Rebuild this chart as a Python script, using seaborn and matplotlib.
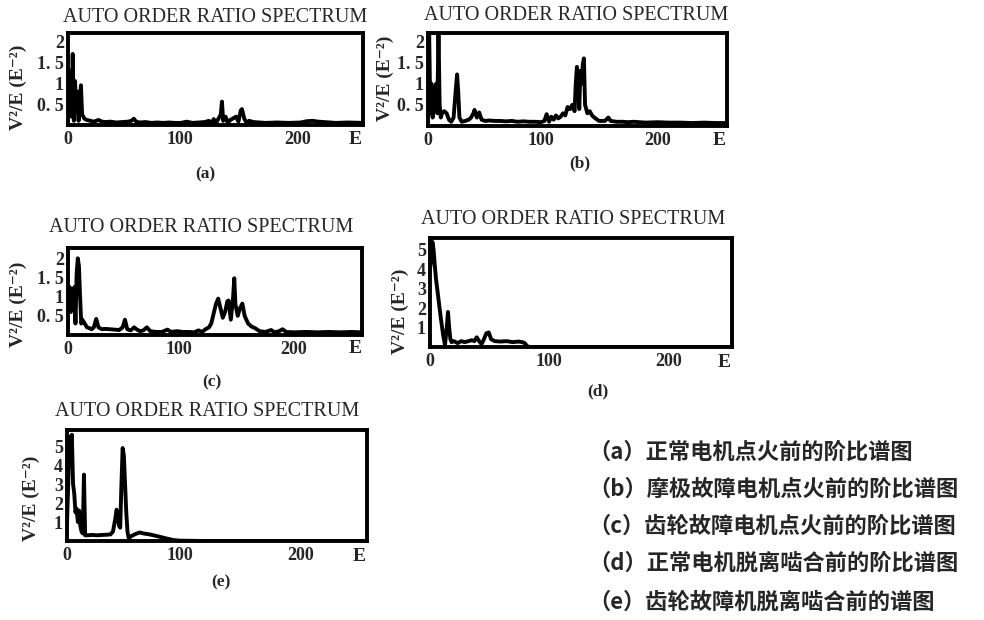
import matplotlib
matplotlib.use("Agg")
import matplotlib.pyplot as plt
import pandas as pd
import seaborn as sns

# ---------------- data ----------------
spec_a = [(5, 1.2), (6, 0.35), (7, 1.3), (8, 0.2), (9, 1.7), (10, 0.1), (11, 1.05), (12, 0.3),
          (13, 0.8), (14, 0.1), (15, 0.6), (16, 0.95), (17, 0.25), (18, 0.2), (19, 0.15), (21, 0.12),
          (24, 0.1), (27, 0.08), (31, 0.12), (34, 0.08), (37, 0.07), (41, 0.08), (46, 0.06), (51, 0.07),
          (56, 0.08), (59, 0.1), (61, 0.15), (63, 0.08), (66, 0.06), (71, 0.07), (76, 0.05), (81, 0.06),
          (86, 0.05), (91, 0.06), (96, 0.05), (101, 0.05), (106, 0.08), (111, 0.05), (116, 0.06),
          (121, 0.07), (125, 0.1), (127, 0.03), (129, 0.14), (131, 0.05), (133, 0.15), (135, 0.25),
          (136, 0.56), (137, 0.1), (139, 0.2), (141, 0.05), (143, 0.12), (145, 0.15), (148, 0.2),
          (150, 0.08), (152, 0.35), (153, 0.38), (155, 0.15), (157, 0.05), (159, 0.1), (163, 0.07),
          (168, 0.06), (173, 0.05), (183, 0.06), (193, 0.05), (203, 0.06), (208, 0.09), (213, 0.1),
          (218, 0.08), (223, 0.07), (233, 0.05), (243, 0.06), (256, 0.05)]

spec_b = [(3, 1.0), (4, 2.2), (5, 0.3), (6, 1.0), (7, 0.2), (8, 0.9), (9, 0.4), (10, 1.0), (11, 0.3),
          (12, 2.3), (13, 0.5), (14, 0.2), (15, 0.3), (17, 0.35), (19, 0.3), (21, 0.15), (23, 0.1),
          (25, 0.2), (27, 0.9), (28, 1.22), (29, 0.8), (30, 0.2), (32, 0.1), (35, 0.12), (38, 0.15),
          (40, 0.2), (42, 0.3), (43, 0.38), (45, 0.2), (47, 0.32), (49, 0.15), (52, 0.12), (56, 0.13),
          (60, 0.12), (65, 0.12), (70, 0.11), (75, 0.12), (80, 0.1), (85, 0.11), (90, 0.1), (95, 0.1),
          (100, 0.09), (103, 0.12), (105, 0.28), (107, 0.1), (109, 0.22), (111, 0.15), (113, 0.25),
          (115, 0.18), (117, 0.22), (119, 0.3), (121, 0.25), (123, 0.45), (125, 0.4), (127, 0.5),
          (129, 0.35), (130, 1.0), (131, 1.4), (132, 1.2), (133, 0.4), (134, 1.3), (135, 1.0),
          (136, 1.45), (137, 1.6), (138, 0.5), (140, 0.3), (142, 0.35), (144, 0.25), (146, 0.2),
          (150, 0.12), (155, 0.12), (158, 0.2), (160, 0.12), (165, 0.1), (170, 0.1), (175, 0.09),
          (180, 0.1), (190, 0.08), (200, 0.09), (210, 0.08), (220, 0.08), (230, 0.07), (240, 0.08),
          (250, 0.07), (258, 0.07)]

spec_c = [(4, 1.0), (5, 1.25), (6, 0.6), (7, 1.2), (8, 0.9), (9, 1.25), (10, 0.3), (11, 1.6),
          (12, 2.0), (13, 1.8), (14, 1.0), (15, 0.3), (16, 0.4), (18, 0.3), (20, 0.2), (22, 0.18),
          (24, 0.15), (26, 0.2), (28, 0.42), (30, 0.2), (33, 0.15), (36, 0.16), (40, 0.15), (44, 0.14),
          (48, 0.13), (51, 0.2), (53, 0.4), (55, 0.15), (58, 0.12), (61, 0.2), (63, 0.15), (66, 0.1),
          (69, 0.12), (72, 0.2), (75, 0.1), (80, 0.08), (85, 0.08), (90, 0.14), (93, 0.08), (98, 0.1),
          (103, 0.08), (108, 0.08), (113, 0.07), (117, 0.12), (120, 0.08), (123, 0.15), (126, 0.2),
          (128, 0.3), (130, 0.55), (132, 0.8), (134, 0.95), (136, 0.7), (138, 0.45), (140, 0.6),
          (142, 0.88), (143, 0.9), (145, 0.4), (147, 1.0), (148, 1.48), (149, 0.8), (151, 0.5),
          (153, 0.7), (155, 0.82), (157, 0.5), (160, 0.3), (163, 0.22), (166, 0.18), (170, 0.1),
          (175, 0.08), (180, 0.13), (183, 0.07), (187, 0.1), (190, 0.15), (193, 0.08), (200, 0.07),
          (210, 0.08), (220, 0.07), (230, 0.08), (240, 0.07), (250, 0.08), (258, 0.07)]

spec_d = [(1, 4.0), (2, 4.5), (3, 5.4), (4, 5.0), (5, 4.2), (6, 3.5), (8, 2.5), (10, 1.5), (12, 0.6),
          (13.5, 0.1), (15, 1.0), (16, 1.8), (17, 1.0), (18, 0.4), (19, 0.25), (21, 0.3), (24, 0.2),
          (27, 0.3), (30, 0.25), (33, 0.3), (36, 0.35), (38, 0.3), (40, 0.5), (42, 0.3), (44, 0.15),
          (46, 0.4), (48, 0.7), (50, 0.75), (52, 0.4), (55, 0.3), (60, 0.28), (65, 0.3), (70, 0.25),
          (75, 0.28), (78, 0.25), (80, 0.2), (82, 0.05), (84, 0.0), (100, 0.0), (150, 0.0), (200, 0.0),
          (253, 0.0)]

spec_e = [(7, 0.9), (8, 3.0), (9, 5.5), (10, 4.0), (11, 5.6), (12, 3.0), (13, 2.5), (14, 1.5),
          (15, 1.7), (16, 1.0), (17, 1.6), (18, 0.8), (19, 0.5), (20, 0.4), (21, 3.5), (22, 0.3),
          (24, 0.3), (28, 0.32), (32, 0.3), (36, 0.32), (40, 0.33), (43, 0.35), (45, 0.5), (47, 1.2),
          (48, 1.65), (49, 1.3), (50, 0.8), (51, 0.7), (52, 3.0), (53, 4.9), (54, 4.5), (55, 3.0),
          (56, 1.5), (57, 0.5), (58, 0.15), (60, 0.25), (63, 0.35), (67, 0.45), (70, 0.4), (75, 0.35),
          (80, 0.28), (85, 0.2), (90, 0.12), (95, 0.05), (100, 0.02), (120, 0.0), (150, 0.0),
          (200, 0.0), (255, 0.0)]

x_tick_values = [100, 200]
x_tick_labels = ["0", "100", "200"]
y_ticks_small = [0.5, 1, 1.5, 2]
y_labels_small = ["0. 5", "1", "1. 5", "2"]
y_ticks_large = [1, 2, 3, 4, 5]
y_labels_large = ["1", "2", "3", "4", "5"]

title_text = "AUTO ORDER RATIO SPECTRUM"
ylabel_text = "V²/E (E⁻²)"
panel_tags = ["(a)", "(b)", "(c)", "(d)", "(e)"]
captions = ["（a）正常电机点火前的阶比谱图",
            "（b）摩极故障电机点火前的阶比谱图",
            "（c）齿轮故障电机点火前的阶比谱图",
            "（d）正常电机脱离啮合前的阶比谱图",
            "（e）齿轮故障机脱离啮合前的谱图"]

# ---------------- figure ----------------
sns.set_theme(style="white")
plt.rcParams["font.family"] = ["Liberation Serif", "DejaVu Serif"]

W, H = 984, 620
fig = plt.figure(figsize=(W / 100, H / 100), dpi=100)
fig.patch.set_facecolor("white")


def fx(px):
    return px / W


def fy(py):
    return 1 - py / H


def rect(l, t, r, b):
    return [fx(l), fy(b), (r - l) / W, (b - t) / H]


panels = [
    # data, box (l,t,r,b), xlim, ylim, small?, title (cx,cy), tag (x,y), ylabel (x,y)
    (spec_a, (68, 33, 363, 125), (5, 256), (0, 2.2), True, (215, 17), (205, 174), (18, 87)),
    (spec_b, (428, 33, 727, 126), (3, 260), (0, 2.2), True, (576, 15), (580, 163), (385, 78)),
    (spec_c, (68, 248, 362, 335), (3.5, 259), (0, 2.27), True, (201, 227), (212, 382), (18, 304)),
    (spec_d, (430, 238, 732, 347), (1, 253), (0, 5.6), False, (573, 220), (598, 391), (400, 311)),
    (spec_e, (67, 430, 367, 541), (7, 255), (0, 5.85), False, (207, 412), (221, 582), (31, 498)),
]

for i, (pts, box, xl, yl, small, tpos, tagpos, ylpos) in enumerate(panels):
    ax = fig.add_axes(rect(*box))
    df = pd.DataFrame(pts, columns=["order", "ratio"])
    sns.lineplot(data=df, x="order", y="ratio", ax=ax, color="black", linewidth=2.8,
                 estimator=None, sort=False)
    ax.set_xlim(*xl)
    ax.set_ylim(*yl)
    ax.set_xticks([xl[0]] + x_tick_values)
    ax.set_xticklabels(x_tick_labels, fontsize=13, fontweight="bold")
    if small:
        ax.set_yticks(y_ticks_small)
        ax.set_yticklabels(y_labels_small, fontsize=13, fontweight="bold")
    else:
        ax.set_yticks(y_ticks_large)
        ax.set_yticklabels(y_labels_large, fontsize=13, fontweight="bold")
    ax.tick_params(axis="x", length=0, pad=4)
    ax.tick_params(axis="y", length=3, width=2, pad=0, direction="out", color="black")
    ax.set_xlabel("")
    ax.set_ylabel("")
    for s in ax.spines.values():
        s.set_visible(True)
        s.set_color("black")
        s.set_linewidth(2.8)
    # axis unit "E"
    ax.text(0.975, -0.06, "E", transform=ax.transAxes, ha="center", va="top",
            fontsize=14, fontweight="bold")
    fig.text(fx(tpos[0]), fy(tpos[1]), title_text, ha="center", va="center", fontsize=14.5)
    fig.text(fx(tagpos[0]), fy(tagpos[1]), panel_tags[i], ha="center", va="center",
             fontsize=12.5, fontweight="bold")
    fig.text(fx(ylpos[0]), fy(ylpos[1]), ylabel_text, ha="center", va="center", rotation=90,
             fontsize=14, fontweight="bold")

cap_y = [452, 489, 526, 563, 602]
for txt, py in zip(captions, cap_y):
    fig.text(fx(588), fy(py), txt, ha="left", va="center", fontsize=16, fontweight="bold",
             family=["Noto Sans CJK SC", "DejaVu Sans"])

fig.savefig("out.png", dpi=100, facecolor="white")
